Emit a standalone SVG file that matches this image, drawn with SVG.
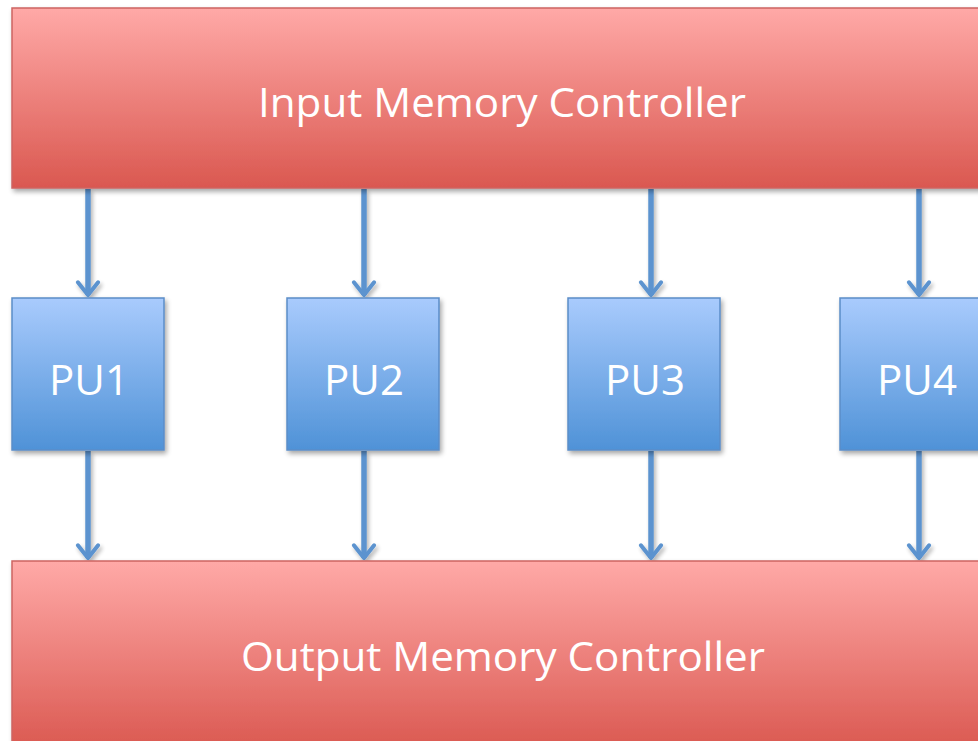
<svg xmlns="http://www.w3.org/2000/svg" width="978" height="741" viewBox="0 0 978 741">
<defs>
<linearGradient id="red" x1="0" y1="0" x2="0" y2="1">
<stop offset="0" stop-color="#FFA9A7"/>
<stop offset="1" stop-color="#DA5850"/>
</linearGradient>
<linearGradient id="blue" x1="0" y1="0" x2="0" y2="1">
<stop offset="0" stop-color="#A9CBFD"/>
<stop offset="1" stop-color="#4F92D7"/>
</linearGradient>
<filter id="sh" x="-10%" y="-10%" width="130%" height="130%">
<feGaussianBlur in="SourceAlpha" stdDeviation="2.5"/>
<feOffset dx="2" dy="3" result="b"/>
<feComponentTransfer><feFuncA type="linear" slope="0.35"/></feComponentTransfer>
<feMerge><feMergeNode/><feMergeNode in="SourceGraphic"/></feMerge>
</filter>
<filter id="lsh" filterUnits="userSpaceOnUse" x="0" y="0" width="978" height="741">
<feGaussianBlur in="SourceAlpha" stdDeviation="2"/>
<feOffset dx="2" dy="3" result="b"/>
<feComponentTransfer><feFuncA type="linear" slope="0.3"/></feComponentTransfer>
<feMerge><feMergeNode/><feMergeNode in="SourceGraphic"/></feMerge>
</filter>
<marker id="ah" viewBox="0 0 10 10" refX="8.4" refY="5" markerWidth="4.6" markerHeight="4.6" orient="auto" markerUnits="strokeWidth">
<path d="M3.4,1 L8.4,5 L3.4,9" fill="none" stroke="#5B93CF" stroke-width="1.6" stroke-linecap="round" stroke-linejoin="round"/>
</marker>
</defs>
<style>
.mem{fill:url(#red);stroke:#CD6461;stroke-width:1.5;filter:url(#sh)}
.pu{fill:url(#blue);stroke:#5B8DC8;stroke-width:1.5;filter:url(#sh)}
.t{font-family:"Open Sans","Lato","Liberation Sans",sans-serif;fill:#fff;text-anchor:middle}
.big{font-size:40px}
.pt{font-size:42px}
.c{stroke:#5B93CF;stroke-width:5.5;fill:none;marker-end:url(#ah)}
</style>
<rect width="978" height="741" fill="#fff"/>
<g id="connectors" filter="url(#lsh)">
<line class="c" x1="88" y1="189" x2="88" y2="295"/>
<line class="c" x1="364" y1="189" x2="364" y2="295"/>
<line class="c" x1="651" y1="189" x2="651" y2="295"/>
<line class="c" x1="919" y1="189" x2="919" y2="295"/>
<line class="c" x1="88" y1="451" x2="88" y2="558"/>
<line class="c" x1="364" y1="451" x2="364" y2="558"/>
<line class="c" x1="651" y1="451" x2="651" y2="558"/>
<line class="c" x1="919" y1="451" x2="919" y2="558"/>
</g>
<g id="input-memory-controller">
<rect class="mem" x="12" y="8" width="980" height="180"/>
<text class="t big" x="502" y="117" textLength="488" lengthAdjust="spacingAndGlyphs">Input Memory Controller</text>
</g>
<g id="pu1">
<rect class="pu" x="12" y="298" width="152" height="152"/>
<text class="t pt" x="89" y="395">PU1</text>
</g>
<g id="pu2">
<rect class="pu" x="287" y="298" width="152" height="152"/>
<text class="t pt" x="364" y="395">PU2</text>
</g>
<g id="pu3">
<rect class="pu" x="568" y="298" width="152" height="152"/>
<text class="t pt" x="645" y="395">PU3</text>
</g>
<g id="pu4">
<rect class="pu" x="840" y="298" width="152" height="152"/>
<text class="t pt" x="917" y="395">PU4</text>
</g>
<g id="output-memory-controller">
<rect class="mem" x="12" y="561" width="980" height="190"/>
<text class="t big" x="503" y="671" textLength="524" lengthAdjust="spacingAndGlyphs">Output Memory Controller</text>
</g>
</svg>
